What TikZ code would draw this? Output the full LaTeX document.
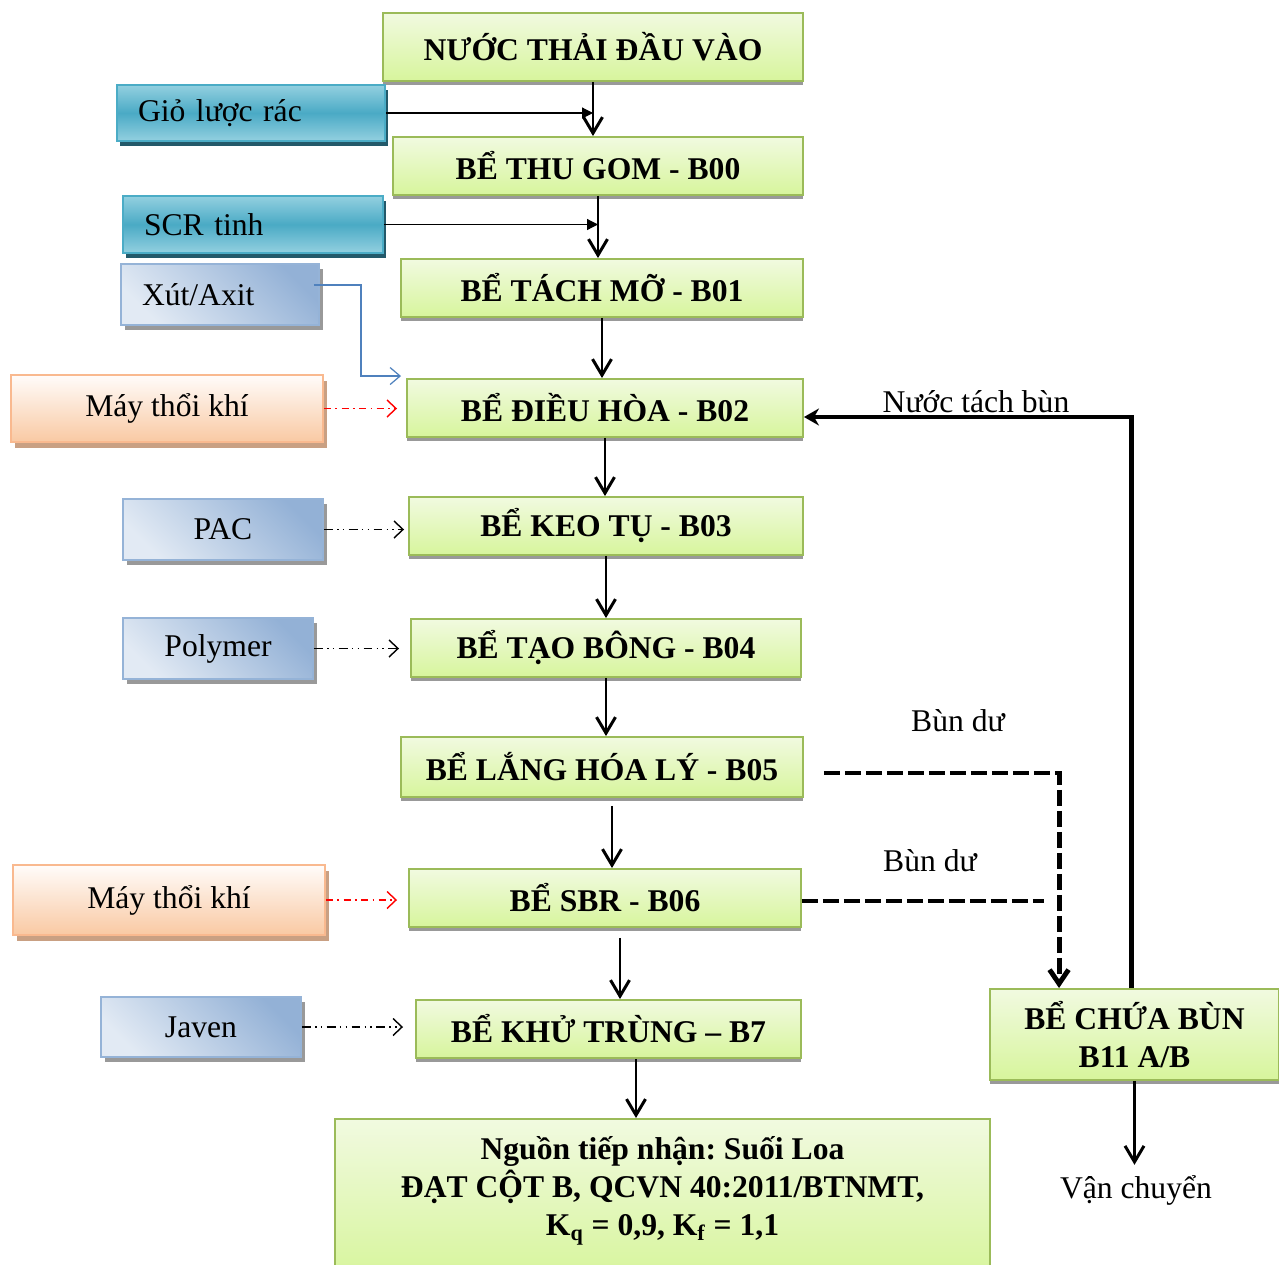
\documentclass[tikz,border=0pt]{standalone}
\usepackage{fontspec}
\setmainfont{Liberation Serif}
\usetikzlibrary{arrows.meta,shadows,calc}
\frenchspacing

\definecolor{tankline}{HTML}{9BBB59}
\definecolor{tanktop}{HTML}{F1FAE0}
\definecolor{tankbot}{HTML}{D7F59C}
\definecolor{sieveline}{HTML}{4BACC6}
\definecolor{sievelight}{HTML}{93D0E0}
\definecolor{sievemid}{HTML}{4AAAC5}
\definecolor{sieveshadow}{HTML}{23596A}
\definecolor{chemline}{HTML}{95B3D7}
\definecolor{chemlight}{HTML}{E2EAF4}
\definecolor{chemdark}{HTML}{93B1D6}
\definecolor{airline}{HTML}{F9B98F}
\definecolor{airtop}{HTML}{FFFCFA}
\definecolor{airbot}{HTML}{F9C9A3}
\definecolor{airshadow}{HTML}{C9A083}
\definecolor{feedblue}{HTML}{4F81BD}

\newcommand{\boxfont}{\fontsize{18}{21.6}\selectfont}

\tikzset{
	sz/.style 2 args={minimum width=#1*0.02cm,minimum height=#2*0.02cm},
	tank/.style={draw=tankline,line width=1.1pt,top color=tanktop,bottom color=tankbot,
		inner sep=0pt,font=\boxfont\bfseries,align=center,
		drop shadow={shadow xshift=0cm,shadow yshift=-0.08cm,fill=black!40,opacity=1}},
	sieve/.style={draw=sieveline,line width=1.1pt,top color=sievelight,bottom color=sievelight,middle color=sievemid,
		inner xsep=0.42cm,inner ysep=0pt,align=left,
		drop shadow={shadow xshift=0.05cm,shadow yshift=-0.1cm,fill=sieveshadow,opacity=1}},
	chem/.style={draw=chemline,line width=1.1pt,top color=chemdark,bottom color=chemlight,shading angle=-45,
		inner sep=0pt,
		drop shadow={shadow xshift=0.08cm,shadow yshift=-0.1cm,fill=black!40,opacity=1}},
	blower/.style={draw=airline,line width=1.1pt,top color=airtop,bottom color=airbot,inner sep=0pt,
		drop shadow={shadow xshift=0.08cm,shadow yshift=-0.12cm,fill=airshadow,opacity=1}},
	flow/.style={line width=1.7pt,-{Straight Barb[length=0.32cm,width=0.38cm]}},
	feed/.style={line width=0.7pt,-{Triangle[length=0.22cm,width=0.22cm]}},
	dose/.style={line width=0.8pt,dash pattern=on 5pt off 2.5pt on 0.8pt off 2.5pt on 0.8pt off 2.5pt,
		-{Straight Barb[length=0.18cm,width=0.34cm]}},
	blow/.style={dose,draw=red,dash pattern=on 4pt off 2.5pt on 1pt off 2.5pt},
	sludge/.style={line width=2.8pt,dash pattern=on 0.32cm off 0.1cm},
	back/.style={line width=2.3pt},
	lbl/.style={inner sep=0pt}
}

\begin{document}
\begin{tikzpicture}[x=0.02cm,y=-0.02cm,font=\boxfont]
	\useasboundingbox (0,0) rectangle (1279,1265);

	\node[tank,sz={420}{68}] (N0) at (593,47) {NƯỚC THẢI ĐẦU VÀO};
	\node[tank,sz={410}{58}] (B00) at (598,166) {BỂ THU GOM - B00};
	\node[tank,sz={402}{58}] (B01) at (602,288) {BỂ TÁCH MỠ - B01};
	\node[tank,sz={396}{58}] (B02) at (605,408) {BỂ ĐIỀU HÒA - B02};
	\node[tank,sz={394}{58}] (B03) at (606,526) {BỂ KEO TỤ - B03};
	\node[tank,sz={390}{58}] (B04) at (606,648) {BỂ TẠO BÔNG - B04};
	\node[tank,sz={402}{60}] (B05) at (602,767) {BỂ LẮNG HÓA LÝ - B05};
	\node[tank,sz={392}{58}] (B06) at (605,898) {BỂ SBR - B06};
	\node[tank,sz={385}{58}] (B07) at (608.5,1029) {BỂ KHỬ TRÙNG – B7};
	\node[tank,sz={655}{160},anchor=north] (out) at (662.5,1118) {};
	\node[align=center,font=\boxfont\bfseries,inner sep=0pt] (outtxt) at (662.5,1191)
		{Nguồn tiếp nhận: Suối Loa\\ĐẠT CỘT B, QCVN 40:2011/BTNMT,\\K\textsubscript{q} = 0,9, K\textsubscript{f} = 1,1};
	\node[tank,sz={289}{91}] (B11) at (1134.5,1034.5) {BỂ CHỨA BÙN\\B11 A/B};

	\node[sieve,sz={268}{56},text width=226*0.02cm] (gio) at (251,113) {Giỏ lược rác};
	\node[sieve,sz={260}{57},text width=218*0.02cm] (scr) at (253,224.5) {SCR tinh};
	\node[chem,sz={198}{61},inner xsep=0.42cm,text width=156*0.02cm,align=left] (xut) at (220,294.5) {Xút/Axit};
	\node[blower,sz={312}{67}] (may1) at (167,408.5) {Máy thổi khí};
	\node[chem,sz={200}{61}] (pac) at (223,529.5) {PAC};
	\node[chem,sz={190}{61}] (poly) at (218,648.5) {Polymer};
	\node[blower,sz={312}{70}] (may2) at (169,900) {Máy thổi khí};
	\node[chem,sz={200}{60}] (jav) at (201,1027) {Javen};

	\node[lbl] (nlbl) at (976,402) {Nước tách bùn};
	\node[lbl] (bd1) at (958,721) {Bùn dư};
	\node[lbl] (bd2) at (930,861) {Bùn dư};
	\node[lbl] (vc) at (1136,1190) {Vận chuyển};

	\coordinate (s5) at ($(B05.south)+(10,8)$);
	\coordinate (s6) at ($(B06.south)+(15,10)$);
	\coordinate (s7) at ($(B07.south)+(27.5,0)$);
	\coordinate (sj) at ($(B11.north west)+(70,0)$);
	\coordinate (s6e) at ($(B06.east)+(0,3)$);
	\coordinate (s11) at ($(B11.north)+(-3,0)$);

	\draw[flow] (N0.south) -- (N0.south |- B00.north);
	\draw[flow] (B00.south) -- (B00.south |- B01.north);
	\draw[flow] (B01.south) -- (B01.south |- B02.north);
	\draw[flow] (B02.south) -- (B02.south |- B03.north);
	\draw[flow] (B03.south) -- (B03.south |- B04.north);
	\draw[flow] (B04.south) -- (B04.south |- B05.north);
	\draw[flow] (s5) -- (s5 |- B06.north);
	\draw[flow] (s6) -- (s6 |- B07.north);
	\draw[flow] (s7) -- (s7 |- out.north);
	\draw[flow,shorten >=0.2cm] (B11.south) -- (B11.south |- vc.north);

	\draw[feed] (gio.east) -- (gio.east -| N0.south);
	\draw[feed] (scr.east) -- (scr.east -| B00.south);
	\draw[feedblue,line width=0.7pt,-{Straight Barb[length=0.2cm,width=0.34cm]}]
		($(xut.east)+(-6,-9.5)$) -- ++(47,0) |- ($(B02.north west)+(-5,-2)$);
	\draw[blow,shorten >=0.18cm] (may1.east) -- (may1.east -| B02.west);
	\draw[dose,shorten >=0.08cm] (pac.east) -- (pac.east -| B03.west);
	\draw[dose,shorten >=0.22cm] (poly.east) -- (poly.east -| B04.west);
	\draw[blow,shorten >=0.22cm] (may2.east) -- (may2.east -| B06.west);
	\draw[dose,shorten >=0.24cm] (jav.east) -- (jav.east -| B07.west);

	\draw[sludge,-{Straight Barb[length=0.28cm,width=0.38cm]}] ($(B05.east)+(20,6)$) -| (sj);
	\draw[sludge,shorten >=0.3cm] (s6e) -- (s6e -| sj);
	\draw[back,-{Stealth[length=0.3cm,width=0.34cm]}] (s11) |- ($(B02.east)+(0,9)$);
\end{tikzpicture}
\end{document}
